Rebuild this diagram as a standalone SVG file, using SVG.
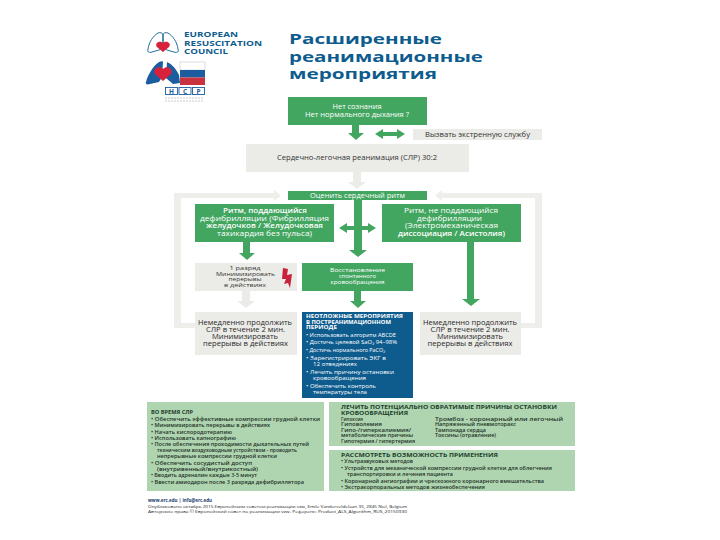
<svg xmlns="http://www.w3.org/2000/svg" width="720" height="540" viewBox="0 0 720 540">
<style>
text{font-family:"Open Sans","Liberation Sans",sans-serif}
.g{fill:#43a660}.lg{fill:#ebebe7}.lp{fill:#eeeeea}.p{fill:#afd5b0}.b{fill:#0e5c8e}
.w{fill:#fff;text-anchor:middle;font-size:6.4px}
.wb{fill:#fff;text-anchor:middle;font-size:6.6px;font-weight:600}
.d{fill:#333;text-anchor:middle;font-size:6.4px}
.sh{fill:#333;text-anchor:middle;font-size:5.2px}
.wr{fill:#fff;text-anchor:middle;font-size:5.4px}
.dl{fill:#2a2a2a;text-anchor:middle;font-size:6.6px}
.h{fill:#1c3d2c;font-size:5.8px;font-weight:700}
.s{fill:#1f3328;font-size:4.8px;font-weight:600}
.bw{fill:#fff;font-size:4.6px}
.bh{fill:#fff;font-size:4.6px;font-weight:700}
.t{fill:#0e5c8e;font-size:15px;font-weight:700}
.e{fill:#0e5c8e;font-size:7.6px;font-weight:700}
</style>
<rect width="720" height="540" fill="#fff"/>
<g id="logo-erc">
<path d="M158 33c-5 3-9 9-10 16-1 3 1 4 4 3l7-2c3-1 4-3 4-6v-9c0-2-3-3-5-2zM168 33c5 3 9 9 10 16 1 3-1 4-4 3l-7-2c-3-1-4-3-4-6v-9c0-2 3-3 5-2z" fill="none" stroke="#0e5c8e" stroke-width=".9"/>
<path d="M163 52l-6-5c-3-4 3-7 6-4 3-3 9 0 6 4z" fill="#d8213b"/>
<text class="e" x="184" y="37" textLength="54" lengthAdjust="spacingAndGlyphs">EUROPEAN</text>
<text class="e" x="184" y="46" textLength="78" lengthAdjust="spacingAndGlyphs">RESUSCITATION</text>
<text class="e" x="184" y="54" textLength="44" lengthAdjust="spacingAndGlyphs">COUNCIL</text>
</g>
<g id="logo-ncp">
<path d="M159 62c-5 3-11 12-13 20-1 2 1 3 4 2l9-2 3-5 1-15c0-1-2-1-4 0zM167 62c5 2 9 7 12 13l1 8-7 1-7-6z" fill="#1c5da0"/>
<path d="M163 81l-8-7c-3-5 4-9 8-5 4-4 11 0 8 5z" fill="#d8213b"/>
<rect x="180" y="62" width="25" height="8" fill="#fff" stroke="#bbb" stroke-width=".5"/>
<rect x="180" y="70" width="25" height="7.500" fill="#1c5da0"/>
<rect x="180" y="77.500" width="25" height="7.500" fill="#c9323f"/>
<g fill="none" stroke="#1c5da0" stroke-width=".9"><rect x="165.500" y="87.500" width="12" height="7"/><rect x="179" y="87.500" width="12" height="7"/><rect x="192.500" y="87.500" width="12" height="7"/></g>
<g fill="#1c5da0" font-size="6.500" text-anchor="middle" font-weight="700"><text x="171.500" y="93.500">Н</text><text x="185" y="93.500">С</text><text x="198.500" y="93.500">Р</text></g>
<path d="M165 98h39M165 101h39" stroke="#bbb" stroke-width=".8" stroke-dasharray="2 1"/>
</g>
<g id="title">
<text class="t" x="289" y="44" textLength="153" lengthAdjust="spacingAndGlyphs">Расширенные</text>
<text class="t" x="289" y="62" textLength="194" lengthAdjust="spacingAndGlyphs">реанимационные</text>
<text class="t" x="289" y="79" textLength="148" lengthAdjust="spacingAndGlyphs">мероприятия</text>
</g>
<g id="connectors">
<path class="lp" d="M174 193h100v-3l7 5.500-7 5.500v-3H181v125h14v5H174zM542 193H442v-3l-7 5.500 7 5.500v-3h93v125h-14v5h21z"/>
<path class="lg" d="M353 172h8v10h5l-9 7-9-7h5zM242 291h8v10h5l-9 7-9-7h5z"/>
<path class="g" d="M352 125h7v8h5l-8 7-8-7h4zM375 134l8-5v3h14v-3l8 5-8 5v-3h-14v3zM354 200h8v50h5l-9 7-9-7h5zM339 228l8-5v3h7v4h-7v3zM362 226h6v-3l8 5-8 5v-3h-6zM243 242h7v11h5l-8 7-8-7h4zM467 242h7v57h6l-9 7-9-7h5zM354 291h7v10h5l-8 7-8-7h4z"/>
</g>
<g id="n-unconscious"><rect class="g" x="288" y="97" width="139" height="28"/><text class="w" x="357" y="109" textLength="49" lengthAdjust="spacingAndGlyphs">Нет сознания</text><text class="w" x="357" y="117" textLength="104" lengthAdjust="spacingAndGlyphs">Нет нормального дыхания ?</text></g>
<g id="n-call"><rect class="lg" x="413" y="129" width="129" height="11"/><text class="d" x="477.500" y="137" textLength="105" lengthAdjust="spacingAndGlyphs">Вызвать экстренную службу</text></g>
<g id="n-cpr"><rect class="lg" x="246" y="144" width="223" height="28"/><text class="d" x="357" y="160" textLength="160" lengthAdjust="spacingAndGlyphs">Сердечно-легочная реанимация (СЛР) 30:2</text></g>
<g id="n-rhythm"><rect class="g" x="288" y="191" width="139" height="9"/><text class="w" x="357.500" y="198" textLength="95" lengthAdjust="spacingAndGlyphs">Оценить сердечный ритм</text></g>
<g id="n-shockable"><rect class="g" x="195" y="204" width="139" height="38"/>
<text class="wb" x="265" y="213" textLength="84" lengthAdjust="spacingAndGlyphs">Ритм, поддающийся</text><text class="w" x="264.500" y="220.500" textLength="129" lengthAdjust="spacingAndGlyphs">дефибрилляции (Фибрилляция</text><text class="wb" x="264.500" y="228" textLength="117" lengthAdjust="spacingAndGlyphs">желудочков / Желудочковая</text><text class="w" x="264.500" y="236" textLength="95" lengthAdjust="spacingAndGlyphs">тахикардия без пульса)</text></g>
<g id="n-nonshockable"><rect class="g" x="382" y="204" width="139" height="38"/>
<text class="w" x="451" y="213" textLength="94" lengthAdjust="spacingAndGlyphs">Ритм, не поддающийся</text><text class="w" x="449.500" y="220.500" textLength="65" lengthAdjust="spacingAndGlyphs">дефибрилляции</text><text class="w" x="451.500" y="228" textLength="93" lengthAdjust="spacingAndGlyphs">(Электромеханическая</text><text class="wb" x="451.500" y="236" textLength="107" lengthAdjust="spacingAndGlyphs">диссоциация / Асистолия)</text></g>
<g id="n-shock"><rect class="lg" x="195" y="263" width="102" height="28"/>
<path d="M283 268l5 1-1 6 5-1-2 14-2-5-4 1 2-5-4 0z" fill="#c9213b"/>
<text class="sh" x="245" y="270" textLength="31" lengthAdjust="spacingAndGlyphs">1 разряд</text><text class="sh" x="245.500" y="275.500" textLength="59" lengthAdjust="spacingAndGlyphs">Минимизировать</text><text class="sh" x="245" y="281" textLength="33" lengthAdjust="spacingAndGlyphs">перерывы</text><text class="sh" x="245" y="286.500" textLength="42" lengthAdjust="spacingAndGlyphs">в действиях</text></g>
<g id="n-rosc"><rect class="g" x="302" y="263" width="111" height="28"/><text class="wr" x="357.500" y="272" textLength="55" lengthAdjust="spacingAndGlyphs">Восстановление</text><text class="wr" x="357.500" y="278" textLength="37" lengthAdjust="spacingAndGlyphs">спонтанного</text><text class="wr" x="357.500" y="284" textLength="54" lengthAdjust="spacingAndGlyphs">кровообращения</text></g>
<g id="n-cpr-left"><rect class="lg" x="195" y="312" width="102" height="43"/><text class="dl" x="245" y="325" textLength="94" lengthAdjust="spacingAndGlyphs">Немедленно продолжить</text><text class="dl" x="245.500" y="332" textLength="79" lengthAdjust="spacingAndGlyphs">СЛР в течение 2 мин.</text><text class="dl" x="245" y="339" textLength="66" lengthAdjust="spacingAndGlyphs">Минимизировать</text><text class="dl" x="245.500" y="346" textLength="85" lengthAdjust="spacingAndGlyphs">перерывы в действиях</text></g>
<g id="n-cpr-right"><rect class="lg" x="420" y="312" width="101" height="43"/><text class="dl" x="470" y="325" textLength="94" lengthAdjust="spacingAndGlyphs">Немедленно продолжить</text><text class="dl" x="470" y="332" textLength="79" lengthAdjust="spacingAndGlyphs">СЛР в течение 2 мин.</text><text class="dl" x="470" y="339" textLength="66" lengthAdjust="spacingAndGlyphs">Минимизировать</text><text class="dl" x="470" y="346" textLength="85" lengthAdjust="spacingAndGlyphs">перерывы в действиях</text></g>
<g id="n-post"><rect class="b" x="302" y="312" width="111" height="86"/>
<text class="bh" x="306" y="318" textLength="97" lengthAdjust="spacingAndGlyphs">НЕОТЛОЖНЫЕ МЕРОПРИЯТИЯ</text><text class="bh" x="306" y="323.500" textLength="85" lengthAdjust="spacingAndGlyphs">В ПОСТРЕАНИМАЦИОННОМ</text><text class="bh" x="306" y="329" textLength="31" lengthAdjust="spacingAndGlyphs">ПЕРИОДЕ</text>
<text class="bw" x="306" y="337" textLength="90" lengthAdjust="spacingAndGlyphs">•  Использовать алгоритм ABCDE</text>
<text class="bw" x="306" y="344" textLength="91" lengthAdjust="spacingAndGlyphs">•  Достичь целевой SaO₂ 94–98%</text>
<text class="bw" x="306" y="352" textLength="79" lengthAdjust="spacingAndGlyphs">•  Достичь нормального PaCO₂</text>
<text class="bw" x="306" y="360" textLength="80" lengthAdjust="spacingAndGlyphs">•  Зарегистрировать ЭКГ в</text><text class="bw" x="313" y="365.500" textLength="44" lengthAdjust="spacingAndGlyphs">12 отведениях</text>
<text class="bw" x="306" y="374" textLength="88" lengthAdjust="spacingAndGlyphs">•  Лечить причину остановки</text><text class="bw" x="313" y="379.500" textLength="53" lengthAdjust="spacingAndGlyphs">кровообращения</text>
<text class="bw" x="306" y="388" textLength="70" lengthAdjust="spacingAndGlyphs">•  Обеспечить контроль</text><text class="bw" x="313" y="393.500" textLength="54" lengthAdjust="spacingAndGlyphs">температуры тела</text></g>
<g id="n-during"><rect class="p" x="147" y="402" width="177" height="89"/>
<text class="h" x="151" y="414" textLength="42" lengthAdjust="spacingAndGlyphs">ВО ВРЕМЯ СЛР</text>
<text class="s" x="151" y="420.500" textLength="169" lengthAdjust="spacingAndGlyphs">•  Обеспечить эффективные компрессии грудной клетки</text>
<text class="s" x="151" y="427" textLength="119" lengthAdjust="spacingAndGlyphs">•  Минимизировать перерывы в действиях</text>
<text class="s" x="151" y="433.500" textLength="81" lengthAdjust="spacingAndGlyphs">•  Начать кислородотерапию</text>
<text class="s" x="151" y="440" textLength="85" lengthAdjust="spacingAndGlyphs">•  Использовать капнографию</text>
<text class="s" x="151" y="446" textLength="158" lengthAdjust="spacingAndGlyphs">•  После обеспечения проходимости дыхательных путей</text>
<text class="s" x="157" y="452" textLength="140" lengthAdjust="spacingAndGlyphs">техническим воздуховодным устройством - проводить</text>
<text class="s" x="157" y="458" textLength="120" lengthAdjust="spacingAndGlyphs">непрерывные компрессии грудной клетки</text>
<text class="s" x="151" y="465" textLength="101" lengthAdjust="spacingAndGlyphs">•  Обеспечить сосудистый доступ</text>
<text class="s" x="157" y="470.500" textLength="101" lengthAdjust="spacingAndGlyphs">(внутривенный/внутрикостный)</text>
<text class="s" x="151" y="477" textLength="106" lengthAdjust="spacingAndGlyphs">•  Вводить адреналин каждые 3-5 минут</text>
<text class="s" x="151" y="484" textLength="153" lengthAdjust="spacingAndGlyphs">•  Ввести амиодарон после 3 разряда дефибриллятора</text></g>
<g id="n-causes"><rect class="p" x="329" y="402" width="246" height="44"/>
<text class="h" x="341" y="408.500" textLength="216" lengthAdjust="spacingAndGlyphs">ЛЕЧИТЬ ПОТЕНЦИАЛЬНО ОБРАТИМЫЕ ПРИЧИНЫ ОСТАНОВКИ</text><text class="h" x="341" y="415" textLength="67" lengthAdjust="spacingAndGlyphs">КРОВООБРАЩЕНИЯ</text>
<text class="s" x="341" y="420.500" textLength="22" lengthAdjust="spacingAndGlyphs">Гипоксия</text><text class="s" x="341" y="426" textLength="41" lengthAdjust="spacingAndGlyphs">Гиповолемия</text><text class="s" x="341" y="431.500" textLength="70" lengthAdjust="spacingAndGlyphs">Гипо-/гиперкалиемия/</text><text class="s" x="341" y="437" textLength="72" lengthAdjust="spacingAndGlyphs">метаболические причины</text><text class="s" x="341" y="443" textLength="74" lengthAdjust="spacingAndGlyphs">Гипотермия / гипертермия</text>
<text class="s" x="435" y="420.500" textLength="128" lengthAdjust="spacingAndGlyphs">Тромбоз - коронарный или легочный</text><text class="s" x="435" y="426" textLength="81" lengthAdjust="spacingAndGlyphs">Напряженный пневмоторакс</text><text class="s" x="435" y="431.500" textLength="51" lengthAdjust="spacingAndGlyphs">Тампонада сердца</text><text class="s" x="435" y="437" textLength="61" lengthAdjust="spacingAndGlyphs">Токсины (отравление)</text></g>
<g id="n-consider"><rect class="p" x="329" y="450" width="246" height="41"/>
<text class="h" x="341" y="457" textLength="157" lengthAdjust="spacingAndGlyphs">РАССМОТРЕТЬ ВОЗМОЖНОСТЬ ПРИМЕНЕНИЯ</text>
<text class="s" x="341" y="463" textLength="72" lengthAdjust="spacingAndGlyphs">•  Ультразвуковых методов</text>
<text class="s" x="341" y="469.500" textLength="211" lengthAdjust="spacingAndGlyphs">•  Устройств для механической компрессии грудной клетки для облегчения</text>
<text class="s" x="347" y="476" textLength="106" lengthAdjust="spacingAndGlyphs">транспортировки и лечения пациента</text>
<text class="s" x="341" y="482.500" textLength="203" lengthAdjust="spacingAndGlyphs">•  Коронарной ангиографии и чрескожного коронарного вмешательства</text>
<text class="s" x="341" y="489" textLength="144" lengthAdjust="spacingAndGlyphs">•  Экстракорпоральных методов жизнеобеспечения</text></g>
<g id="footer" fill="#222" font-size="4.300">
<text x="148" y="502" font-weight="700" fill="#1c3d6c" textLength="64" lengthAdjust="spacingAndGlyphs">www.erc.edu | info@erc.edu</text>
<text x="148" y="507.500" textLength="259" lengthAdjust="spacingAndGlyphs">Опубликовано октябрь 2015 Европейским советом реанимации vzw, Emile Vanderveldelaan 35, 2845 Niel, Belgium</text>
<text x="148" y="512.500" textLength="259" lengthAdjust="spacingAndGlyphs">Авторские права © Европейский совет по реанимации vzw. Референс: Product_ALS_Algorithm_RUS_20150930</text>
</g>
</svg>
